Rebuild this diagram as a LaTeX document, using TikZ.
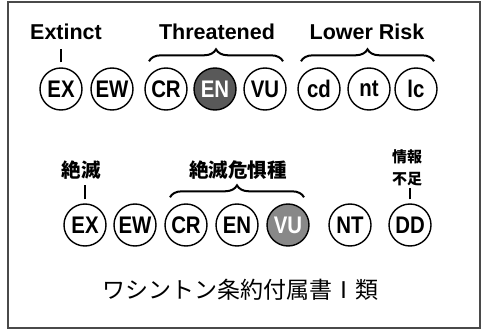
\documentclass[tikz,border=0pt]{standalone}
\usepackage{fontspec}
\setmainfont{Liberation Sans}
\newfontfamily\circf[FakeStretch=0.85]{Liberation Sans}
\newfontfamily\jp{Noto Sans CJK JP}
\usetikzlibrary{decorations.pathreplacing}
\definecolor{framec}{HTML}{4A4A4A}
\definecolor{darkfill}{HTML}{595959}
\definecolor{midfill}{HTML}{888888}
\begin{document}
\begin{tikzpicture}[x=1pt,y=-1pt,
  circ/.style={circle,draw=black,line width=1.4pt,minimum size=42pt,inner sep=0pt,
    font=\circf\bfseries\fontsize{24}{26}\selectfont},
  darkc/.style={circ,fill=darkfill,text=white},
  midc/.style={circ,fill=midfill,text=white},
  lab/.style={anchor=base,inner sep=0pt,font=\bfseries\fontsize{21.5}{24}\selectfont},
  jlab/.style={inner sep=0pt,font=\jp\bfseries\fontsize{19.5}{22}\selectfont},
  tick/.style={line width=1.5pt},
  brc/.style={line width=2pt,decorate,decoration={brace,amplitude=12pt}}]
\useasboundingbox (0,0) rectangle (482,329);
\draw[framec,line width=1.5pt] (8,2) rectangle (480,328);

% row 1
\node[circ]  (ex1) at (61,89)  {EX};
\node[circ]  (ew1) at (112,89) {EW};
\node[circ]  (cr1) at (166,89) {CR};
\node[darkc] (en1) at (215,89) {EN};
\node[circ]  (vu1) at (265,89) {VU};
\node[circ]  (cd1) at (319,89) {cd};
\node[circ]  (nt1) at (369,89) {nt};
\node[circ]  (lc1) at (416,89) {lc};

\node[lab] (extinct) at (66,40) {Extinct};
\node[lab] (threat) at (217,40) {Threatened};
\node[lab] (lower) at (367,40) {Lower Risk};

\draw[tick] ([yshift=5pt]ex1.north) -- ([yshift=18pt]ex1.north);
\draw[brc] ([xshift=-17pt,yshift=6pt]cr1.north) -- ([xshift=18pt,yshift=6pt]vu1.north);
\draw[brc] ([xshift=-18pt,yshift=6pt]cd1.north) -- ([xshift=18pt,yshift=6pt]lc1.north);

% row 2
\node[circ] (ex2) at (85,225)  {EX};
\node[circ] (ew2) at (135,225) {EW};
\node[circ] (cr2) at (186,225) {CR};
\node[circ] (en2) at (237,225) {EN};
\node[midc] (vu2) at (288,225) {VU};
\node[circ] (nt2) at (350,225) {NT};
\node[circ] (dd2) at (410,225) {DD};

\node[jlab] (zetsu) at (81,170) {絶滅};
\node[jlab] (kigu) at (238,170) {絶滅危惧種};
\node[jlab,align=center,font=\jp\bfseries\fontsize{15}{22}\selectfont] (joho) at (407,168) {情報\\不足};

\draw[tick] ([yshift=4pt]ex2.north) -- ([yshift=18pt]ex2.north);
\draw[tick] ([yshift=4pt]dd2.north) -- ([yshift=15pt]dd2.north);
\draw[brc] ([xshift=-16pt,yshift=6pt]cr2.north) -- ([xshift=16pt,yshift=6pt]vu2.north);

\node[inner sep=0pt,font=\jp\fontsize{23}{26}\selectfont] (cites) at (240,290) {ワシントン条約付属書Ⅰ類};
\end{tikzpicture}
\end{document}
